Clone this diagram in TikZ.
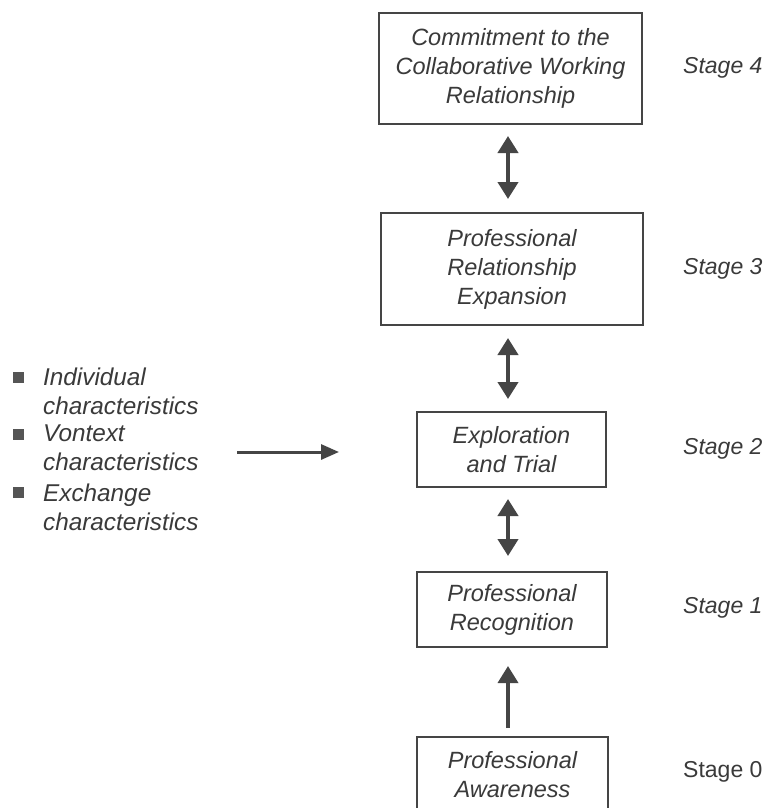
\documentclass[tikz,border=0pt]{standalone}
\usepackage{fontspec}
\setmainfont{Liberation Sans}
\usetikzlibrary{arrows.meta}
\definecolor{ink}{HTML}{3A3A3A}
\definecolor{linec}{HTML}{454545}
\definecolor{bulletc}{HTML}{555555}
\begin{document}
\begin{tikzpicture}[x=1pt,y=1pt,
  every node/.style={text=ink},
  txt/.style={font=\fontsize{23.5}{29}\selectfont\itshape},
  stagebox/.style={draw=linec, line width=2pt, inner sep=0pt, align=center, txt},
  stagelabel/.style={anchor=west, inner sep=0pt, font=\fontsize{23}{29}\selectfont\itshape},
  listtext/.style={anchor=west, inner sep=0pt, align=left, font=\fontsize{24.3}{29}\selectfont\itshape},
  bulletbox/.style={fill=bulletc, minimum size=11pt, inner sep=0pt},
  dbl/.style={line width=4pt, draw=linec, {Triangle[length=17pt,width=20pt]}-{Triangle[length=17pt,width=20pt]}},
  uparrow/.style={line width=3.5pt, draw=linec, -{Triangle[length=17pt,width=20pt]}},
  harrow/.style={line width=3pt, draw=linec, -{Triangle[length=18pt,width=15pt]}}
]
\useasboundingbox (0,0) rectangle (768,-808);
\fill[white] (0,0) rectangle (768,-808);

% boxes
\node[stagebox, minimum width=263pt, minimum height=111pt] (b4) at (510.5,-68.5)
  {Commitment to the\\Collaborative Working\\Relationship};
\node[stagebox, minimum width=262pt, minimum height=112pt] (b3) at (512,-269)
  {Professional\\Relationship\\Expansion};
\node[stagebox, minimum width=189pt, minimum height=75pt] (b2) at (511.5,-449.5)
  {Exploration\\and Trial};
\node[stagebox, minimum width=190pt, minimum height=75pt] (b1) at (512,-609.5)
  {Professional\\Recognition};
\node[stagebox, minimum width=191pt, minimum height=75pt] (b0) at (512.5,-774.5)
  {Professional\\Awareness};

% stage labels
\node[stagelabel] (s4) at (683,-68) {Stage 4};
\node[stagelabel] (s3) at (683,-269) {Stage 3};
\node[stagelabel] (s2) at (683,-449) {Stage 2};
\node[stagelabel] (s1) at (683,-608) {Stage 1};
\node[stagelabel, font=\fontsize{23}{29}\selectfont\upshape] (s0) at (683,-772) {Stage 0};

% connectors
\coordinate (ax) at (508,0);
\draw[dbl, shorten <=11pt, shorten >=13pt] (b4.south -| ax) -- (b3.north -| ax);
\draw[dbl, shorten <=12pt, shorten >=12pt] (b3.south -| ax) -- (b2.north -| ax);
\draw[dbl, shorten <=11pt, shorten >=15pt] (b2.south -| ax) -- (b1.north -| ax);
\draw[uparrow, shorten <=8pt, shorten >=18pt] (b0.north -| ax) -- (b1.south -| ax);

% list
\node[bulletbox] (bu1) at (18,-377) {};
\node[listtext] (l1) at (43,-391) {Individual\\characteristics};
\node[bulletbox] (bu2) at (18,-434) {};
\node[listtext] (l2) at (43,-448) {Vontext\\characteristics};
\node[bulletbox] (bu3) at (18,-492) {};
\node[listtext] (l3) at (43,-507) {Exchange\\characteristics};

\coordinate (hs) at (237,-452);
\coordinate (he) at (339,-452);
\draw[harrow] (hs) -- (he);
\end{tikzpicture}
\end{document}
